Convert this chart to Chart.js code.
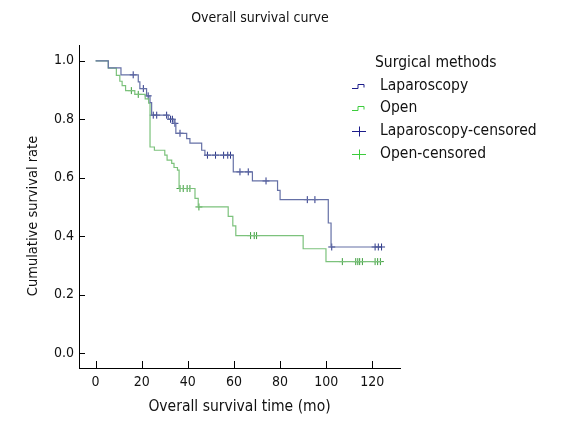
<!DOCTYPE html>
<html>
<head>
<meta charset="utf-8">
<script src="https://cdn.jsdelivr.net/npm/chart.js@4.4.0/dist/chart.umd.min.js"></script>
<style>
  body { margin: 0; background: #fff; }
</style>
</head>
<body>
<canvas id="myChart" width="569" height="437"></canvas>
<script>
// Kaplan-Meier curves, values
const lapTime = [0, 5.5, 11, 18.5, 19.2, 22.1, 23.6, 24.3, 31.5, 34, 34.8, 39.5, 40.9, 46, 47.4, 59.7, 68, 78.9, 80, 100.9, 102.1, 124];
const lapSurv = [1.0, 0.976, 0.952, 0.928, 0.905, 0.88, 0.857, 0.814, 0.80, 0.786, 0.752, 0.734, 0.718, 0.694, 0.677, 0.62, 0.589, 0.557, 0.525, 0.445, 0.363, 0.363];
const lapCensTime = [16.3, 20.7, 22.8, 25, 26.5, 30.8, 32.5, 33.3, 34.4, 36.6, 48.5, 52, 55.5, 57.3, 58.5, 62.6, 66.2, 73.9, 91.8, 95.1, 102.4, 121.2, 122.6, 124];
const lapCensSurv = [0.952, 0.905, 0.88, 0.814, 0.814, 0.814, 0.80, 0.80, 0.786, 0.752, 0.677, 0.677, 0.677, 0.677, 0.677, 0.62, 0.62, 0.589, 0.525, 0.525, 0.363, 0.363, 0.363, 0.363];

const openTime = [0, 5.5, 9, 10.5, 11.5, 13, 17, 21.5, 23, 23.6, 25.5, 30, 31, 33, 34, 35.5, 36.2, 43.1, 44.5, 57.5, 59.5, 60.8, 90, 99.9, 124];
const openSurv = [1.0, 0.975, 0.95, 0.93, 0.915, 0.898, 0.885, 0.87, 0.855, 0.705, 0.694, 0.677, 0.66, 0.649, 0.635, 0.626, 0.563, 0.529, 0.50, 0.468, 0.435, 0.402, 0.357, 0.313, 0.313];
const openCensTime = [15.5, 18.5, 36.6, 38, 39.7, 40.9, 44.8, 67.2, 68.8, 69.8, 107, 112.8, 113.7, 114.5, 115.7, 121.2, 122.3, 123.5];
const openCensSurv = [0.898, 0.885, 0.563, 0.563, 0.563, 0.563, 0.5, 0.402, 0.402, 0.402, 0.313, 0.313, 0.313, 0.313, 0.313, 0.313, 0.313, 0.313];

const xTicks = [0, 20, 40, 60, 80, 100, 120];
const yTicks = [0, 0.2, 0.4, 0.6, 0.8, 1.0];
const legendLabels = ['Laparoscopy', 'Open', 'Laparoscopy-censored', 'Open-censored'];

const FONT = '"DejaVu Sans Condensed", "DejaVu Sans", sans-serif';
const blueLine = '#6570a6', blueMark = '#2b3688', blueKey = '#1c1c8a';
const greenLine = '#7cc27c', greenMark = '#3d9e3d', greenKey = '#3ccc3c';

const pts = (xs, ys) => xs.map((x, i) => ({x: x, y: ys[i]}));

// tick marks point inwards in the original
const innerTicks = {
  id: 'innerTicks',
  afterDraw(chart) {
    const {ctx, chartArea} = chart;
    const x = chart.scales.x, y = chart.scales.y;
    ctx.save();
    ctx.strokeStyle = '#000';
    ctx.lineWidth = 1;
    ctx.beginPath();
    x.ticks.forEach(t => {
      const px = Math.round(x.getPixelForValue(t.value)) + 0.5;
      ctx.moveTo(px, chartArea.bottom);
      ctx.lineTo(px, chartArea.bottom - 7);
    });
    y.ticks.forEach(t => {
      const py = Math.round(y.getPixelForValue(t.value)) + 0.5;
      ctx.moveTo(chartArea.left, py);
      ctx.lineTo(chartArea.left + 6, py);
    });
    ctx.stroke();
    ctx.restore();
  }
};

const titleAndLegend = {
  id: 'titleAndLegend',
  afterDraw(chart) {
    const ctx = chart.ctx;
    ctx.save();
    ctx.fillStyle = '#111';
    ctx.textBaseline = 'middle';
    ctx.textAlign = 'center';
    ctx.font = '14px ' + FONT;
    ctx.fillText('Overall survival curve', 260, 18);
    // y axis title
    ctx.save();
    ctx.translate(33, 216);
    ctx.rotate(-Math.PI / 2);
    ctx.font = '14.5px ' + FONT;
    ctx.fillText('Cumulative survival rate', 0, 0);
    ctx.restore();
    ctx.textAlign = 'left';
    ctx.font = '15.5px ' + FONT;
    ctx.fillText('Surgical methods', 375, 63);
    const rows = [86, 108, 131, 154];
    const keyCol = [blueKey, greenKey, blueKey, greenKey];
    legendLabels.forEach((lbl, i) => {
      const yy = rows[i] + 0.5;
      ctx.strokeStyle = keyCol[i];
      ctx.lineWidth = 1;
      ctx.beginPath();
      if (i < 2) {
        ctx.moveTo(352, yy + 2);
        ctx.lineTo(358, yy + 2);
        ctx.lineTo(358, yy - 2);
        ctx.lineTo(364, yy - 2);
        ctx.lineTo(364, yy + 1);
      } else {
        ctx.moveTo(352, yy);
        ctx.lineTo(366, yy);
        ctx.moveTo(359.5, yy - 5);
        ctx.lineTo(359.5, yy + 5);
      }
      ctx.stroke();
      ctx.fillText(lbl, 380, rows[i]);
    });
    ctx.restore();
  }
};

new Chart(document.getElementById('myChart'), {
  type: 'line',
  data: {
    datasets: [
      { label: legendLabels[0], data: pts(lapTime, lapSurv), stepped: 'before', borderColor: blueLine, borderWidth: 1.2, pointRadius: 0, fill: false },
      { label: legendLabels[1], data: pts(openTime, openSurv), stepped: 'before', borderColor: greenLine, borderWidth: 1.2, pointRadius: 0, fill: false },
      { label: legendLabels[2], type: 'scatter', data: pts(lapCensTime, lapCensSurv), pointStyle: 'cross', pointRadius: 3.5, borderColor: blueMark, borderWidth: 1, showLine: false },
      { label: legendLabels[3], type: 'scatter', data: pts(openCensTime, openCensSurv), pointStyle: 'cross', pointRadius: 3.5, borderColor: greenMark, borderWidth: 1, showLine: false }
    ]
  },
  options: {
    responsive: false,
    animation: false,
    layout: { padding: { top: 45, right: 169, left: 0, bottom: 0 } },
    plugins: {
      legend: { display: false },
      tooltip: { enabled: false }
    },
    scales: {
      x: {
        type: 'linear',
        min: -7.2,
        max: 132,
        afterBuildTicks: s => { s.ticks = xTicks.map(v => ({value: v})); },
        afterFit: s => { s.height = 69; },
        grid: { display: false, drawTicks: false },
        border: { display: true, color: '#000', width: 1 },
        ticks: { color: '#111', padding: 6, font: { family: FONT, size: 14 } },
        title: { display: true, text: 'Overall survival time (mo)', color: '#111', font: { family: FONT, size: 15.5 }, padding: { top: 0, bottom: 21 } }
      },
      y: {
        type: 'linear',
        min: -0.051,
        max: 1.054,
        afterBuildTicks: s => { s.ticks = yTicks.map(v => ({value: v})); },
        afterFit: s => { s.width = 79; },
        grid: { display: false, drawTicks: false },
        border: { display: true, color: '#000', width: 1 },
        ticks: { color: '#111', padding: 5, font: { family: FONT, size: 14 }, callback: v => v.toFixed(1) },
        title: { display: false }
      }
    }
  },
  plugins: [innerTicks, titleAndLegend]
});
</script>
</body>
</html>
